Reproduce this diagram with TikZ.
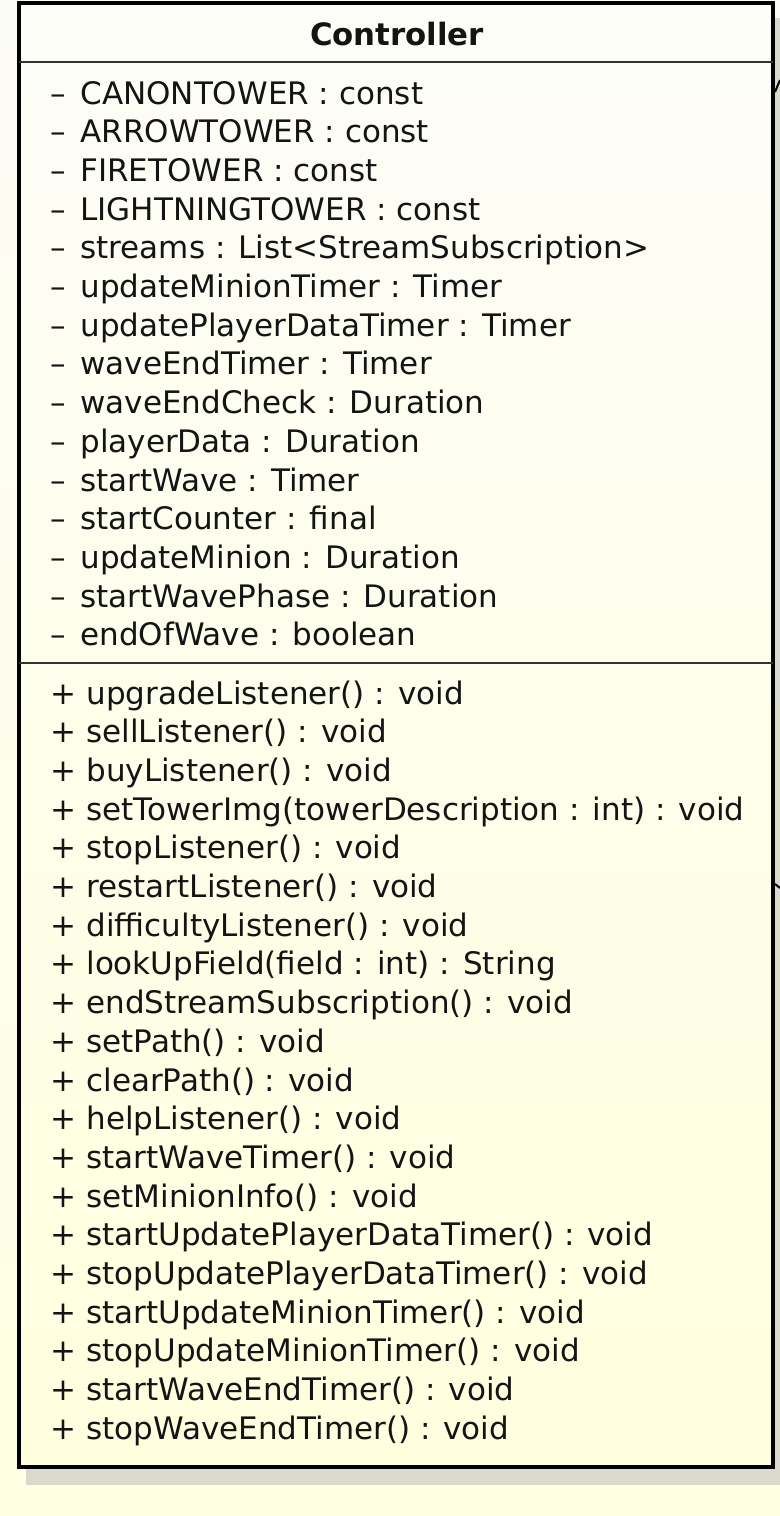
\documentclass[tikz,border=0pt]{standalone}
\usepackage{fontspec}
\setmainfont{DejaVu Sans}
\definecolor{bgtop}{RGB}{252,252,246}
\definecolor{bgbot}{RGB}{255,255,226}
\definecolor{boxtop}{RGB}{253,253,248}
\definecolor{boxbot}{RGB}{255,255,222}
\definecolor{shadowc}{RGB}{218,218,204}
\definecolor{txt}{RGB}{20,20,20}
\begin{document}
\begin{tikzpicture}[x=0.5pt,y=-0.5pt,
  member/.style={anchor=base west,inner sep=0pt,text=txt,font=\fontsize{15.5}{18}\selectfont},
  vis/.style={anchor=base west,inner sep=0pt,text=txt,font=\fontsize{15.5}{18}\selectfont},
  sep/.style={line width=1pt,draw=black!80},
  classbox/.style={draw=black,line width=2pt,top color=boxtop,bottom color=boxbot,
    minimum width=377pt,minimum height=732pt,inner sep=0pt}]
\useasboundingbox (0,0) rectangle (780,1516);
\shade[top color=bgtop,bottom color=bgbot] (0,0) rectangle (780,1516);
\fill[shadowc] (26,18) rectangle (782,1485);
\node[classbox] (controller) at (396,735) {};
\node[anchor=base,inner sep=0pt,text=txt,font=\fontsize{15.4}{18}\selectfont\bfseries] (title) at (397,45) {Controller};
\draw[sep] (19,62) -- (773,62);
\draw[sep] (19,663) -- (773,663);
\foreach \t [count=\i] in {CANONTOWER : const,ARROWTOWER : const,FIRETOWER : const,LIGHTNINGTOWER : const,streams : List<StreamSubscription>,updateMinionTimer : Timer,updatePlayerDataTimer : Timer,waveEndTimer : Timer,waveEndCheck : Duration,playerData : Duration,startWave : Timer,startCounter : final,updateMinion : Duration,startWavePhase : Duration,endOfWave : boolean}{
  \pgfmathsetmacro\yy{104+38.7*(\i-1)}
  \node[vis] (av\i) at (50,\yy) {–};
  \node[member] (a\i) at (80,\yy) {\t};
}
\foreach \t [count=\i] in {upgradeListener() : void,sellListener() : void,buyListener() : void,setTowerImg(towerDescription : int) : void,stopListener() : void,restartListener() : void,difficultyListener() : void,lookUpField(field : int) : String,endStreamSubscription() : void,setPath() : void,clearPath() : void,helpListener() : void,startWaveTimer() : void,setMinionInfo() : void,startUpdatePlayerDataTimer() : void,stopUpdatePlayerDataTimer() : void,startUpdateMinionTimer() : void,stopUpdateMinionTimer() : void,startWaveEndTimer() : void,stopWaveEndTimer() : void}{
  \pgfmathsetmacro\yy{704+38.7*(\i-1)}
  \node[vis] (mv\i) at (50,\yy) {+};
  \node[member] (m\i) at (86,\yy) {\t};
}
\coordinate (s1a) at (775,92);
\coordinate (s1b) at (780,80);
\coordinate (s2a) at (775,884);
\coordinate (s2b) at (780,888);
\draw[line width=1pt] (s1a) -- (s1b);
\draw[line width=1pt] (s2a) -- (s2b);
\end{tikzpicture}
\end{document}
